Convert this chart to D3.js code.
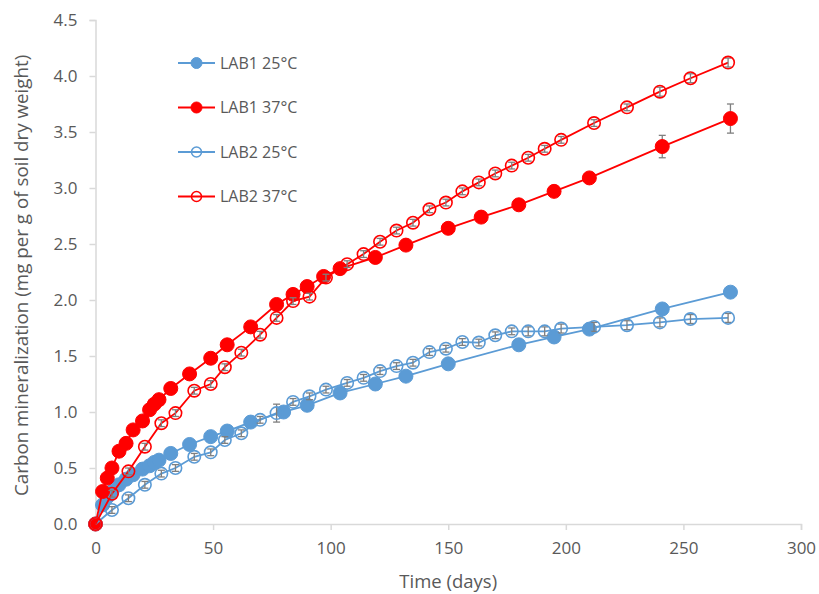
<!DOCTYPE html>
<html>
<head>
<meta charset="utf-8">
<script src="https://cdn.jsdelivr.net/npm/d3@7"></script>
<style>
  html, body { margin: 0; padding: 0; background: #fff; }
  svg { display: block; }
  text { font-family: "Open Sans", Lato, sans-serif; fill: #595959; }
</style>
</head>
<body>
<div id="chart"></div>
<script>
// ---- data ----
const xTicks = [0, 50, 100, 150, 200, 250, 300];
const yTicks = [0, 0.5, 1.0, 1.5, 2.0, 2.5, 3.0, 3.5, 4.0, 4.5];

const lab1_37_days = [0,3,5,7,10,13,16,20,23,25,27,32,40,49,56,66,77,84,90,97,104,119,132,150,164,180,195,210,241,270];
const lab1_37_vals = [0,0.29,0.41,0.50,0.65,0.72,0.84,0.92,1.02,1.07,1.11,1.21,1.34,1.48,1.60,1.76,1.96,2.05,2.12,2.21,2.28,2.38,2.49,2.64,2.74,2.85,2.97,3.09,3.37,3.62];
const lab1_37_err  = [0,0.02,0.02,0.02,0.02,0.02,0.02,0.02,0.02,0.02,0.02,0.02,0.02,0.02,0.02,0.02,0.02,0.02,0.02,0.02,0.02,0.02,0.02,0.03,0.03,0.03,0.03,0.03,0.10,0.13];

const lab1_25_days = [0,3,5,7,10,13,16,20,23,25,27,32,40,49,56,66,80,90,104,119,132,150,180,195,210,241,270];
const lab1_25_vals = [0,0.17,0.24,0.29,0.35,0.40,0.44,0.49,0.52,0.55,0.57,0.63,0.71,0.78,0.83,0.91,1.00,1.06,1.17,1.25,1.32,1.43,1.60,1.67,1.74,1.92,2.07];
const lab1_25_err  = [0,0.02,0.02,0.02,0.02,0.02,0.02,0.02,0.02,0.02,0.02,0.02,0.02,0.02,0.02,0.02,0.02,0.02,0.02,0.02,0.02,0.02,0.02,0.02,0.02,0.03,0.03];

const lab2_days = [0,7,14,21,28,34,42,49,55,62,70,77,84,91,98,107,114,121,128,135,142,149,156,163,170,177,184,191,198,212,226,240,253,269];
const lab2_25_vals = [0,0.125,0.23,0.35,0.45,0.50,0.60,0.64,0.75,0.81,0.93,0.99,1.09,1.14,1.20,1.26,1.305,1.365,1.41,1.44,1.535,1.565,1.625,1.62,1.685,1.72,1.72,1.72,1.745,1.76,1.775,1.80,1.83,1.84];
const lab2_25_err  = [0,0.03,0.03,0.03,0.03,0.03,0.03,0.03,0.03,0.03,0.03,0.08,0.03,0.03,0.03,0.03,0.03,0.03,0.03,0.03,0.03,0.03,0.03,0.03,0.03,0.03,0.04,0.04,0.04,0.04,0.04,0.04,0.04,0.04];
const lab2_37_vals = [0,0.27,0.47,0.69,0.90,0.99,1.19,1.25,1.40,1.53,1.69,1.84,1.99,2.03,2.20,2.32,2.41,2.52,2.62,2.69,2.81,2.87,2.97,3.05,3.13,3.20,3.27,3.35,3.43,3.58,3.72,3.86,3.98,4.12];
const lab2_37_err  = [0,0.03,0.03,0.03,0.03,0.03,0.03,0.03,0.03,0.03,0.03,0.03,0.03,0.03,0.03,0.03,0.03,0.03,0.03,0.03,0.03,0.03,0.03,0.03,0.03,0.03,0.03,0.03,0.03,0.03,0.03,0.04,0.04,0.04];

const seriesNames = ["LAB1 25°C", "LAB1 37°C", "LAB2 25°C", "LAB2 37°C"];
const BLUE = "#5B9BD5", RED = "#FF0000";

const zip = (d, v, e) => d.map((x, i) => ({ x, y: v[i], e: e[i] }));
const series = [
  { name: seriesNames[0], color: BLUE, filled: true,  pts: zip(lab1_25_days, lab1_25_vals, lab1_25_err) },
  { name: seriesNames[1], color: RED,  filled: true,  pts: zip(lab1_37_days, lab1_37_vals, lab1_37_err) },
  { name: seriesNames[2], color: BLUE, filled: false, pts: zip(lab2_days, lab2_25_vals, lab2_25_err) },
  { name: seriesNames[3], color: RED,  filled: false, pts: zip(lab2_days, lab2_37_vals, lab2_37_err) }
];

// ---- chart ----
const W = 819, H = 594;
const svg = d3.select("#chart").append("svg").attr("width", W).attr("height", H);

const x = d3.scaleLinear().domain([0, 300]).range([95.5, 801]);
const y = d3.scaleLinear().domain([0, 4.5]).range([524, 20]);

const AX = "#D9D9D9";

// y axis
const yAxis = svg.append("g").attr("transform", `translate(${x(0)},0)`)
  .call(d3.axisLeft(y).tickValues(yTicks).tickFormat(d3.format(".1f")).tickSize(6).tickPadding(12));
// x axis
const xAxis = svg.append("g").attr("transform", `translate(0,${y(0)})`)
  .call(d3.axisBottom(x).tickValues(xTicks).tickFormat(d3.format("d")).tickSize(6).tickPadding(12));

[yAxis, xAxis].forEach(g => {
  g.select(".domain").attr("stroke", AX).attr("stroke-width", 1.5);
  g.selectAll(".tick line").attr("stroke", AX).attr("stroke-width", 1.5);
  g.selectAll(".tick text").attr("fill", "#595959").style("font-size", "17px")
    .style("font-family", "'Open Sans', Lato, sans-serif");
});

// axis titles
svg.append("text").attr("x", x(150)).attr("y", 588).attr("text-anchor", "middle")
  .style("font-size", "18.5px").text("Time (days)");
svg.append("text").attr("transform", `translate(28,${y(2.22)}) rotate(-90)`)
  .attr("text-anchor", "middle").style("font-size", "18.8px")
  .text("Carbon mineralization (mg per g of soil dry weight)");

const line = d3.line().x(d => x(d.x)).y(d => y(d.y));

series.forEach(s => {
  const g = svg.append("g");
  g.append("path").datum(s.pts).attr("d", line)
    .attr("fill", "none").attr("stroke", s.color).attr("stroke-width", 1.8);
  // error bars
  const eb = g.append("g").attr("stroke", "#7F7F7F").attr("stroke-width", 1.3);
  s.pts.filter(p => p.e > 0).forEach(p => {
    eb.append("line").attr("x1", x(p.x)).attr("x2", x(p.x)).attr("y1", y(p.y - p.e)).attr("y2", y(p.y + p.e));
    eb.append("line").attr("x1", x(p.x) - 3.5).attr("x2", x(p.x) + 3.5).attr("y1", y(p.y - p.e)).attr("y2", y(p.y - p.e));
    eb.append("line").attr("x1", x(p.x) - 3.5).attr("x2", x(p.x) + 3.5).attr("y1", y(p.y + p.e)).attr("y2", y(p.y + p.e));
  });
  // markers
  g.selectAll("circle").data(s.pts).join("circle")
    .attr("cx", d => x(d.x)).attr("cy", d => y(d.y))
    .attr("r", s.filled ? 7 : 6.2)
    .attr("fill", s.filled ? s.color : "none")
    .attr("stroke", s.color).attr("stroke-width", s.filled ? 1 : 1.6);
});

// legend
const leg = svg.append("g");
const legY = [63, 107.5, 152, 196.5];
series.forEach((s, i) => {
  const gy = legY[i];
  leg.append("line").attr("x1", 178).attr("x2", 215).attr("y1", gy).attr("y2", gy)
    .attr("stroke", s.color).attr("stroke-width", 1.8);
  leg.append("circle").attr("cx", 196.5).attr("cy", gy).attr("r", s.filled ? 5.5 : 5)
    .attr("fill", s.filled ? s.color : "none").attr("stroke", s.color).attr("stroke-width", s.filled ? 1 : 1.5);
  leg.append("text").attr("x", 220).attr("y", gy).attr("dy", "0.36em")
    .style("font-size", "16px").text(s.name);
});
</script>
</body>
</html>
